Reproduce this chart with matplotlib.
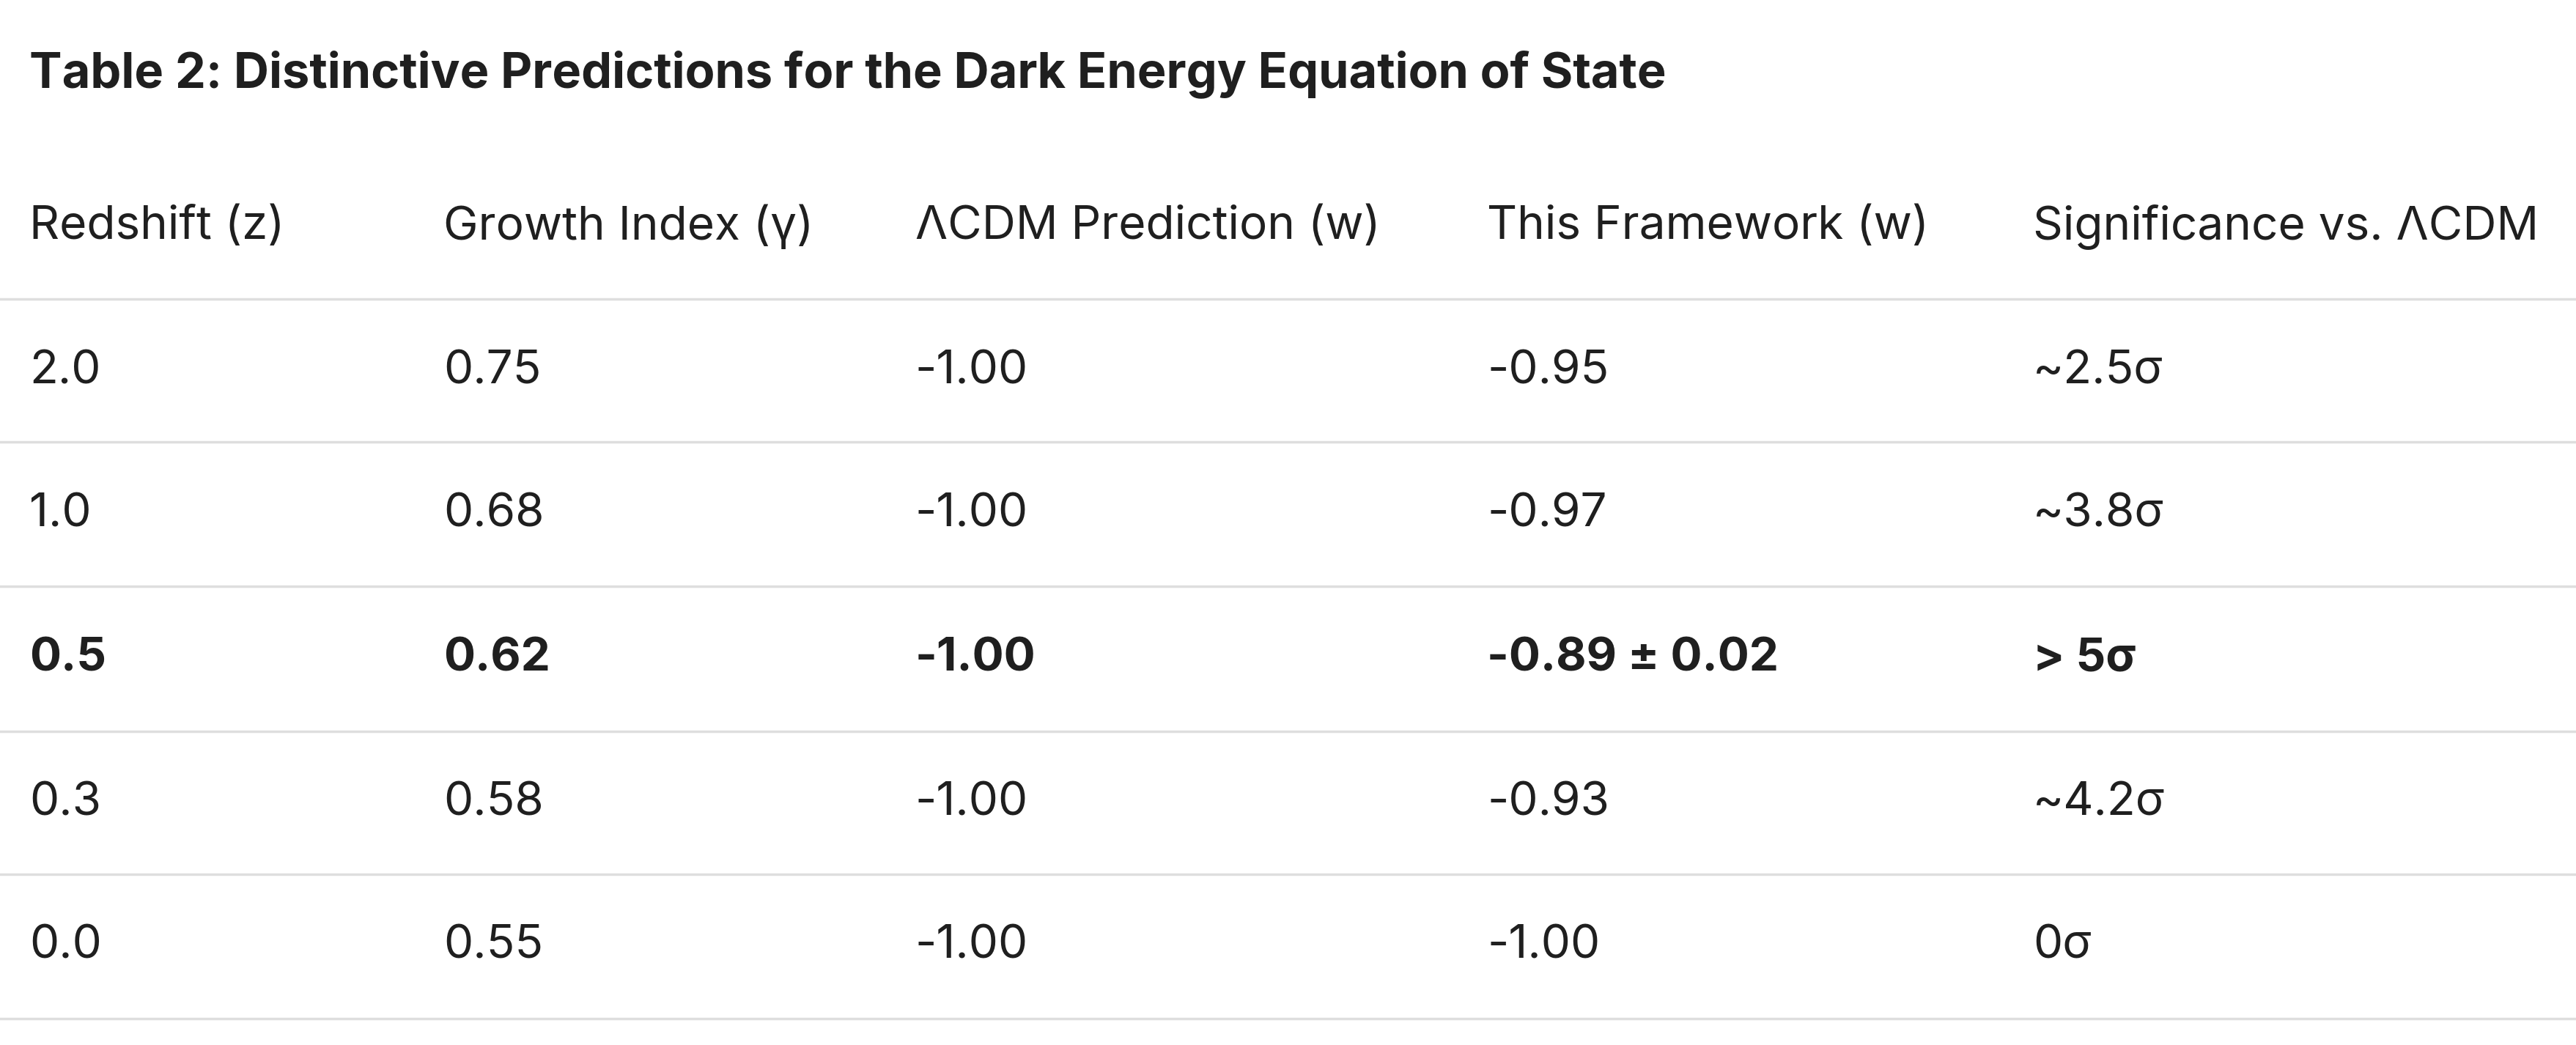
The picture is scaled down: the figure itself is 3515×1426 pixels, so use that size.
import matplotlib
matplotlib.use("Agg")
import matplotlib.pyplot as plt

title = "Table 2: Distinctive Predictions for the Dark Energy Equation of State"
headers = ["Redshift (z)", "Growth Index (γ)", "ΛCDM Prediction (w)", "This Framework (w)", "Significance vs. ΛCDM"]
redshift = ["2.0", "1.0", "0.5", "0.3", "0.0"]
growth = ["0.75", "0.68", "0.62", "0.58", "0.55"]
lcdm = ["-1.00", "-1.00", "-1.00", "-1.00", "-1.00"]
framework = ["-0.95", "-0.97", "-0.89 ± 0.02", "-0.93", "-1.00"]
significance = ["~2.5σ", "~3.8σ", "> 5σ", "~4.2σ", "0σ"]
bold_row = 2

fam = ["Inter", "DejaVu Sans"]
fig = plt.figure(figsize=(35.16, 14.26), dpi=100)
W, H = 1568, 636
col_x = [18, 270, 557, 905, 1237]
def fx(x): return x / W
def fy(y): return 1 - y / H
txt = "#1f1f1f"
fig.text(fx(18), fy(45), title, fontsize=48, fontweight="bold", color=txt, va="center", family=fam)
for x, h in zip(col_x, headers):
    fig.text(fx(x), fy(138), h, fontsize=46, color=txt, va="center", family=fam)
lines_y = [182, 269, 357, 445, 532, 620]
for y in lines_y:
    fig.add_artist(plt.Line2D([0, 1], [fy(y), fy(y)], color="#dedede", lw=2.5, transform=fig.transFigure))
row_y = [226, 313, 401, 489, 576]
cols = [redshift, growth, lcdm, framework, significance]
for i, y in enumerate(row_y):
    for x, c in zip(col_x, cols):
        fig.text(fx(x), fy(y), c[i], fontsize=46, color=txt, va="center", family=fam,
                 fontweight="bold" if i == bold_row else "normal")
fig.savefig("out.png", dpi=100, facecolor="white")
